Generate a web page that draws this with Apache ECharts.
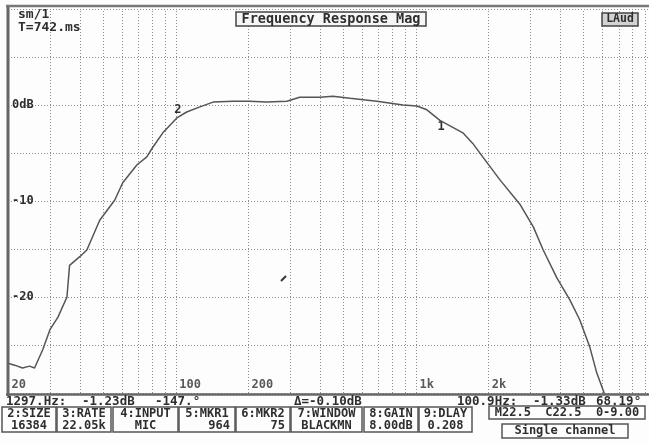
<!DOCTYPE html>
<html><head><meta charset="utf-8">
<script src="https://cdn.jsdelivr.net/npm/echarts@6/dist/echarts.min.js"></script>
<style>html,body{margin:0;padding:0;background:#fdfdfd}#c{width:649px;height:444px}</style>
</head><body><div id="c"></div>
<script>
// Measured curve (frequency in Hz, magnitude in dB)
const freqHz = [20, 21.3, 23, 24.6, 25.8, 27.9, 29.9, 32.3, 35.2, 36.1, 39.8, 42.6, 48.2, 55.7, 60.1, 68.8, 75.7, 80.2, 88.3, 101, 111, 126, 143, 173, 203, 239, 290, 328, 398, 451, 531, 688, 883, 1010, 1111, 1259, 1569, 1725, 1898, 2239, 2721, 3083, 3390, 3864, 4377, 4816, 5297, 5664, 6166];
const magDb = [-26.9, -27.1, -27.4, -27.2, -27.4, -25.5, -23.4, -22.1, -20.0, -16.7, -15.8, -15.1, -12.0, -9.9, -8.1, -6.25, -5.4, -4.4, -2.9, -1.35, -0.73, -0.2, 0.3, 0.4, 0.4, 0.3, 0.4, 0.8, 0.8, 0.9, 0.7, 0.4, 0.0, -0.1, -0.5, -1.6, -2.9, -4.0, -5.4, -7.8, -10.4, -12.7, -15.1, -18.0, -20.3, -22.4, -25.2, -27.9, -30.4];
// Vertical grid frequencies
const gridFreqs = [30, 40, 50, 60, 70, 80, 90, 100, 200, 300, 400, 500, 600, 700, 800, 900, 1000, 2000, 3000, 4000, 5000, 6000, 7000, 8000, 9000];
// Tick labels
const xTickVals = [20, 100, 200, 1000, 2000];
const xTickLabels = ['20', '100', '200', '1k', '2k'];
const yTickVals = [0, -10, -20];
const yTickLabels = ['0dB', '-10', '-20'];
// Markers
const markerFreqs = [100.9, 1297];
const markerDb = [-1.33, -1.23];
const markerNames = ['2', '1'];

const FONT = '"DejaVu Sans Mono", "Liberation Mono", monospace';
const INK = '#2e2e2e';
const GRIDC = '#8c8c8c';

const chart = echarts.init(document.getElementById('c'), null, {renderer: 'canvas'});

const boxes = [
  [2, 54, '2:SIZE', '16384', 'center'],
  [57, 54, '3:RATE', '22.05k', 'center'],
  [113, 65, '4:INPUT', 'MIC', 'center'],
  [179, 56, '5:MKR1', '964', 'right'],
  [236, 54, '6:MKR2', '75', 'right'],
  [291, 71, '7:WINDOW', 'BLACKMN', 'center'],
  [364, 54, '8:GAIN', '8.00dB', 'center'],
  [419, 53, '9:DLAY', '0.208', 'center']
];

function txt(x, y, text, opts) {
  opts = opts || {};
  return {
    type: 'text', x: x, y: y, z: 100,
    style: {
      text: text, fill: INK,
      font: 'bold ' + (opts.size || 12) + 'px ' + FONT,
      textAlign: opts.align || 'left', textVerticalAlign: 'middle'
    }
  };
}

const graphics = [];
// frame
graphics.push({type: 'line', z: 90, shape: {x1: 8, y1: 5, x2: 8, y2: 396}, style: {stroke: '#666', lineWidth: 3}});
graphics.push({type: 'line', z: 90, shape: {x1: 6, y1: 6, x2: 649, y2: 6}, style: {stroke: '#777', lineWidth: 2.5}});
graphics.push({type: 'line', z: 90, shape: {x1: 6, y1: 394.5, x2: 649, y2: 394.5}, style: {stroke: '#666', lineWidth: 2.5}});
// title box
graphics.push({type: 'rect', z: 95, shape: {x: 236, y: 12, width: 190, height: 14}, style: {fill: '#f6f6f6', stroke: '#444', lineWidth: 1.5}});
graphics.push(txt(331, 19.5, 'Frequency Response Mag', {align: 'center', size: 13.5}));
// top-left
graphics.push(txt(18, 15, 'sm/1', {size: 13}));
graphics.push(txt(18, 28, 'T=742.ms', {size: 13}));
// LAud box
graphics.push({type: 'rect', z: 95, shape: {x: 602, y: 13, width: 36, height: 13}, style: {fill: '#d2d2d2', stroke: '#444', lineWidth: 1.5}});
graphics.push(txt(620, 19.5, 'LAud', {align: 'center', size: 11.5}));
// status line
graphics.push(txt(6, 402, '1297.Hz:', {size: 12.5}));
graphics.push(txt(82, 402, '-1.23dB', {size: 12.5}));
graphics.push(txt(155, 402, '-147.\u00b0', {size: 12.5}));
graphics.push(txt(294, 402, '\u0394=-0.10dB', {size: 12.5}));
graphics.push(txt(457, 402, '100.9Hz:', {size: 12.5}));
graphics.push(txt(533, 402, '-1.33dB', {size: 12.5}));
graphics.push(txt(596, 402, '68.19\u00b0', {size: 12.5}));
// parameter boxes
boxes.forEach(function (b) {
  const x = b[0], w = b[1];
  graphics.push({type: 'rect', z: 95, shape: {x: x, y: 407, width: w, height: 25}, style: {fill: 'none', stroke: '#555', lineWidth: 1.5}});
  graphics.push(txt(x + w / 2, 414, b[2], {align: 'center'}));
  if (b[4] === 'right') graphics.push(txt(x + w - 5, 426, b[3], {align: 'right'}));
  else graphics.push(txt(x + w / 2, 426, b[3], {align: 'center'}));
});
graphics.push({type: 'rect', z: 95, shape: {x: 489, y: 406, width: 156, height: 13}, style: {fill: 'none', stroke: '#555', lineWidth: 1.5}});
graphics.push(txt(567, 413, 'M22.5  C22.5  0-9.00', {align: 'center'}));
graphics.push({type: 'rect', z: 95, shape: {x: 502, y: 424, width: 126, height: 14}, style: {fill: 'none', stroke: '#555', lineWidth: 1.5}});
graphics.push(txt(565, 431, 'Single channel', {align: 'center'}));
// stray pen mark
graphics.push({type: 'line', z: 90, shape: {x1: 281, y1: 281, x2: 286, y2: 276}, style: {stroke: '#333', lineWidth: 2}});

const option = {
  animation: false,
  backgroundColor: '#fdfdfd',
  grid: {left: 8, right: 0, top: 9, bottom: 51},
  xAxis: {
    type: 'log', logBase: 10, min: 20, max: 9350,
    axisLine: {show: false}, axisTick: {show: false}, axisLabel: {show: false}, splitLine: {show: false}
  },
  yAxis: {
    type: 'value', min: -30, max: 10, interval: 5,
    axisLine: {show: false}, axisTick: {show: false},
    axisLabel: {
      inside: true, margin: 4, color: INK, fontFamily: FONT, fontWeight: 'bold', fontSize: 12,
      padding: [8, 0, 0, 0],
      formatter: function (v) { const i = yTickVals.indexOf(v); return i >= 0 ? yTickLabels[i] : ''; }
    },
    splitLine: {show: true, lineStyle: {color: GRIDC, type: [1, 2], width: 1}}
  },
  graphic: graphics,
  series: [
    {
      type: 'line', data: [[20, -30]], showSymbol: false, silent: true, z: 1,
      lineStyle: {opacity: 0},
      markLine: {
        silent: true, symbol: ['none', 'none'], label: {show: false},
        lineStyle: {color: GRIDC, type: [1, 2], width: 1},
        data: gridFreqs.map(function (f) { return {xAxis: f}; })
      }
    },
    {
      type: 'line', z: 5,
      data: freqHz.map(function (f, i) { return [f, magDb[i]]; }),
      showSymbol: false, clip: true,
      lineStyle: {color: '#555', width: 1.5},
      markPoint: {
        symbol: 'circle', symbolSize: 0,
        data: markerFreqs.map(function (f, i) {
          return {coord: [f, markerDb[i]], label: {show: true, formatter: markerNames[i], offset: i === 0 ? [1, -8] : [-2, 10]}};
        }),
        label: {color: INK, fontFamily: FONT, fontWeight: 'bold', fontSize: 12}
      }
    },
    {
      type: 'scatter', z: 6, symbolSize: 1, itemStyle: {color: 'rgba(0,0,0,0)'}, silent: true,
      data: xTickVals.map(function (v, i) {
        return {value: [v, -30], label: {formatter: xTickLabels[i]}};
      }),
      label: {show: true, position: 'right', distance: 3, offset: [0, -8], color: INK, fontFamily: FONT, fontWeight: 'bold', fontSize: 12}
    }
  ]
};
chart.setOption(option);
</script>
</body></html>
